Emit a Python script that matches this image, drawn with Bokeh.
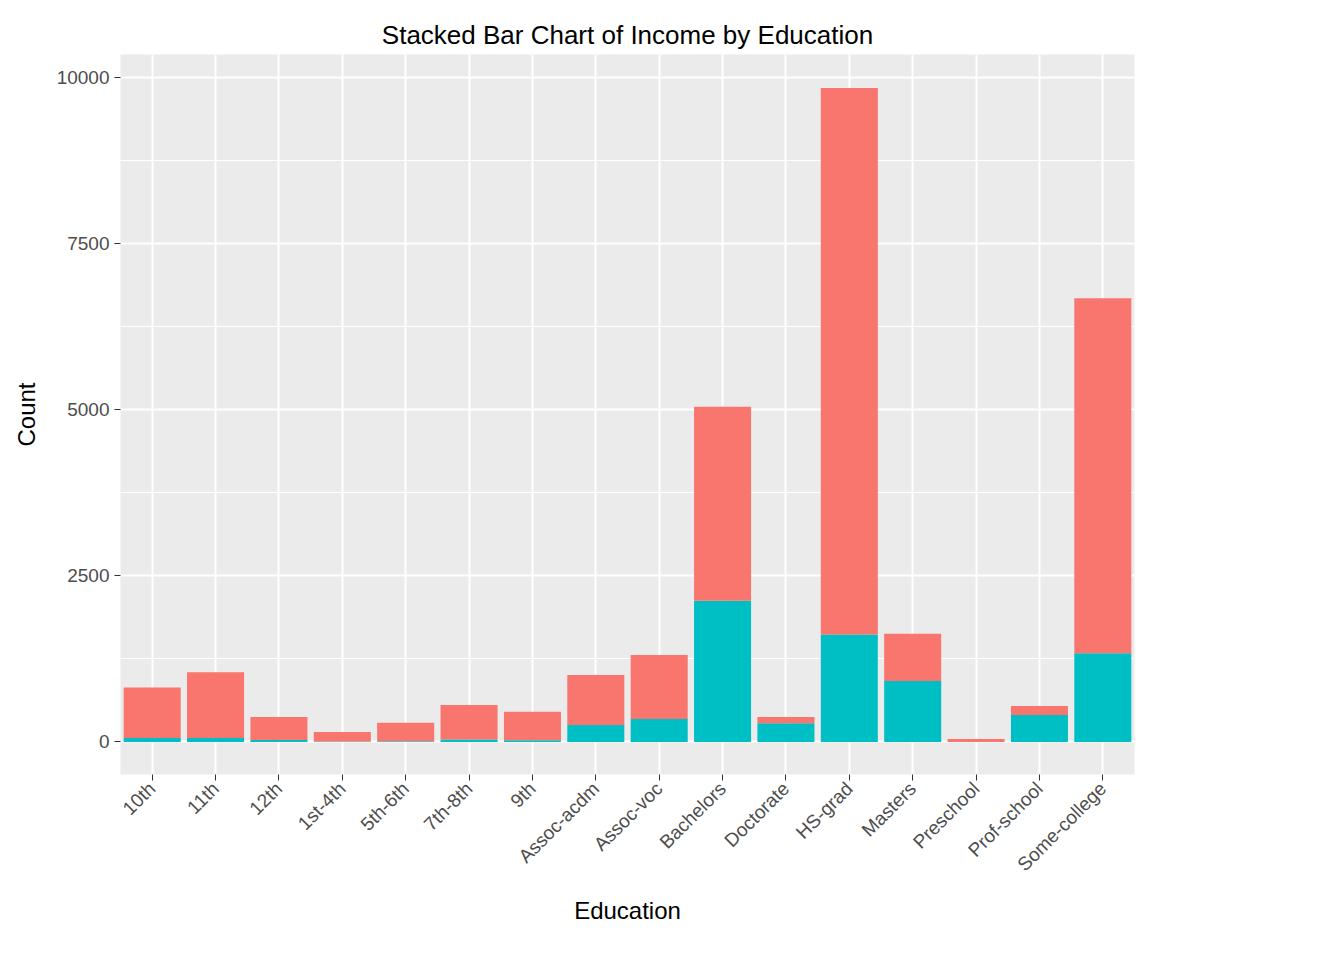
from bokeh.plotting import figure
from bokeh.models import Legend, LegendItem, FixedTicker
from bokeh.embed import file_html
from bokeh.resources import INLINE

education = ["10th", "11th", "12th", "1st-4th", "5th-6th", "7th-8th", "9th",
             "Assoc-acdm", "Assoc-voc", "Bachelors", "Doctorate", "HS-grad",
             "Masters", "Preschool", "Prof-school", "Some-college"]
low = [761, 989, 348, 145, 276, 522, 430, 752, 963, 2918, 95, 8223, 709, 45, 136, 5342]
high = [59, 59, 29, 6, 12, 35, 25, 256, 344, 2126, 280, 1617, 918, 0, 406, 1336]

FONT = "Liberation Sans"
source = dict(education=education, low=low, high=high)

p = figure(x_range=education, y_range=(-490, 10345), width=1328, height=944,
           output_backend="svg", toolbar_location=None,
           title="Stacked Bar Chart of Income by Education",
           x_axis_label="Education", y_axis_label="Count",
           min_border_left=120, min_border_top=54, min_border_bottom=170, min_border_right=194)

r = p.vbar_stack(["high", "low"], x="education", width=0.9, source=source,
                 color=["#00BFC4", "#F8766D"], line_color=None)

p.background_fill_color = "#EBEBEB"
p.border_fill_color = "white"
p.outline_line_color = None
p.title.align = "center"
p.title.text_font = FONT
p.title.text_font_size = "26px"
p.title.text_font_style = "normal"
p.title.text_color = "black"

p.yaxis.ticker = FixedTicker(ticks=[0, 2500, 5000, 7500, 10000],
                             minor_ticks=[1250, 3750, 6250, 8750])
for ax in (p.xaxis, p.yaxis):
    ax.major_label_text_font = FONT
    ax.major_label_text_font_size = "19px"
    ax.major_label_text_color = "#4D4D4D"
    ax.axis_label_text_font = FONT
    ax.axis_label_text_font_size = "24px"
    ax.axis_label_text_font_style = "normal"
    ax.axis_label_text_color = "black"
    ax.axis_line_color = None
    ax.major_tick_line_color = "#333333"
    ax.major_tick_in = 0
    ax.major_tick_out = 6
    ax.minor_tick_line_color = None
p.xaxis.major_label_orientation = 0.785
p.yaxis.formatter.use_scientific = False
p.xaxis.axis_label_standoff = 12
p.yaxis.axis_label_standoff = 14

p.xgrid.grid_line_color = "white"
p.xgrid.grid_line_width = 2
p.ygrid.grid_line_color = "white"
p.ygrid.grid_line_width = 2
p.ygrid.minor_grid_line_color = "white"
p.ygrid.minor_grid_line_width = 1

legend = Legend(items=[LegendItem(label="<=50K", renderers=[r[1]]),
                       LegendItem(label=">50K", renderers=[r[0]])],
                title="Income", location=(1052, 280),
                glyph_width=44, glyph_height=44, spacing=3,
                label_text_font=FONT, label_text_font_size="19px",
                title_text_font=FONT, title_text_font_size="24px",
                title_text_font_style="normal",
                border_line_color=None, background_fill_alpha=0,
                margin=0, padding=8)
p.add_layout(legend, "center")

open("out.html", "w").write(file_html(p, INLINE))
